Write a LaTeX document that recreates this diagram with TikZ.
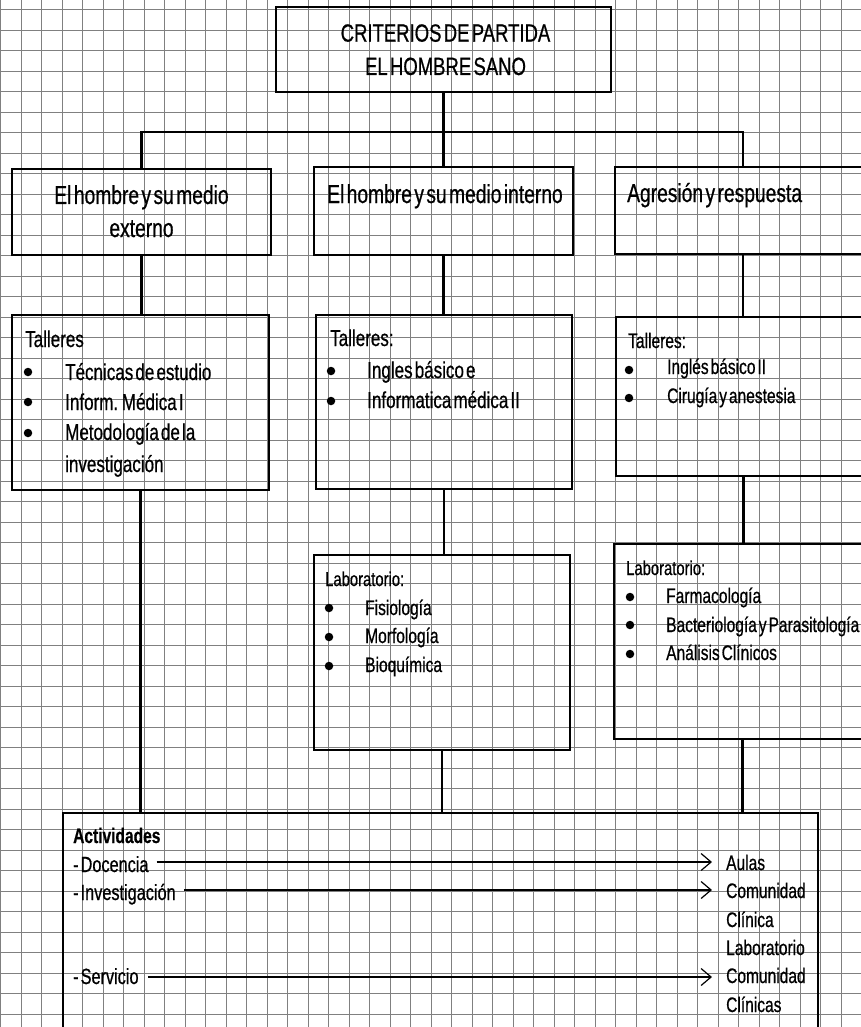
\documentclass[tikz,border=0pt]{standalone}
\usepackage{fontspec}
\setmainfont[FakeStretch=0.74,WordSpace=0.45,FakeBold=0.6]{Liberation Sans}
\usetikzlibrary{arrows.meta}
\begin{document}
\begin{tikzpicture}[x=1pt,y=-1pt,
  gridline/.style={black!50,line width=0.7pt},
  box/.style={draw,line width=2pt,rectangle,inner sep=0pt,anchor=north west},
  link/.style={line width=2.2pt},
  lbl/.style={inner sep=0pt,anchor=base west},
  clbl/.style={inner sep=0pt,anchor=base},
  dot/.style={circle,fill=black,inner sep=0pt,minimum size=8.5pt},
  arr/.style={line width=2pt,-{Straight Barb[length=10pt,width=17pt,line width=1.2pt]},shorten >=14pt},
  fA/.style={font=\fontsize{25}{30}\selectfont},
  fB/.style={font=\fontsize{26}{31}\selectfont},
  fC/.style={font=\fontsize{23}{28}\selectfont},
  fD/.style={font=\fontsize{21}{25}\selectfont},
  fE/.style={font=\fontsize{20}{24}\selectfont},
  fF/.style={font=\fontsize{22}{26}\selectfont},
  fG/.style={font=\bfseries\fontsize{21}{25}\selectfont}]
\useasboundingbox (0,0) rectangle (861,1027);
\clip (0,0) rectangle (861,1027);
\fill[white] (0,0) rectangle (861,1027);
% graph paper
\foreach \i in {0,...,42} \draw[gridline] (\i*20.5+0.5,0) -- (\i*20.5+0.5,1027);
\foreach \j in {0,...,50} \draw[gridline] (0,\j*20.5+9.7) -- (861,\j*20.5+9.7);

% boxes
\node[box,minimum width=335pt,minimum height=85pt] (top) at (275,6) {};
\node[box,minimum width=259pt,minimum height=86pt] (b1) at (11,168) {};
\node[box,minimum width=259pt,minimum height=88pt] (b2) at (313,166) {};
\node[box,minimum width=256pt,minimum height=87pt] (b3) at (614,166) {};
\node[box,minimum width=257pt,minimum height=175pt] (t1) at (11,314) {};
\node[box,minimum width=256pt,minimum height=174pt] (t2) at (315,314) {};
\node[box,minimum width=255pt,minimum height=159pt] (t3) at (615,316) {};
\node[box,minimum width=256pt,minimum height=195pt] (l2) at (313,554) {};
\node[box,minimum width=257pt,minimum height=195pt] (l3) at (613,543) {};
\node[box,minimum width=755pt,minimum height=230pt] (act) at (62,812) {};

% connectors
\draw[link] (top.south) -- ++(0,39) coordinate (j);
\draw[link] (b1.north) -- (b1.north |- j) -- (b3.north |- j) -- (b3.north);
\draw[link] (b2.north) -- (b2.north |- j);
\draw[link] (b1.south) -- (b1.south |- t1.north);
\draw[link] (b2.south) -- (b2.south |- t2.north);
\draw[link] (b3.south) -- (b3.south |- t3.north);
\draw[link] (t2.south) -- (t2.south |- l2.north);
\draw[link] (t3.south) -- (t3.south |- l3.north);
\draw[link] (t1.south) -- (t1.south |- act.north);
\draw[link] (l2.south) -- (l2.south |- act.north);
\draw[link] (l3.south) -- (l3.south |- act.north);

% header
\node[clbl,fA] (h1) at (445.5,41.7) {CRITERIOS DE PARTIDA};
\node[clbl,fA] (h2) at (445.5,75) {EL HOMBRE SANO};

% level 1
\node[clbl,fB] (b1a) at (141.5,204) {El hombre y su medio};
\node[clbl,fB] (b1b) at (141.5,237) {externo};
\node[lbl,fB] (b2a) at (327,203) {El hombre y su medio interno};
\node[lbl,fB] (b3a) at (627,202) {Agresión y respuesta};

% talleres 1
\node[lbl,fC] (t1h) at (25,347) {Talleres};
\node[dot] (t1d1) at (28,372) {};
\node[dot] (t1d2) at (28,402) {};
\node[dot] (t1d3) at (28,433) {};
\node[lbl,fC] (t1a) at (65,380) {Técnicas de estudio};
\node[lbl,fC] (t1b) at (65,410) {Inform. Médica I};
\node[lbl,fC] (t1c) at (65,440) {Metodología de la};
\node[lbl,fC] (t1e) at (65,472) {investigación};

% talleres 2
\node[lbl,fC] (t2h) at (330,346) {Talleres:};
\node[dot] (t2d1) at (331,371) {};
\node[dot] (t2d2) at (331,401) {};
\node[lbl,fC] (t2a) at (367,378) {Ingles básico e};
\node[lbl,fC] (t2b) at (367,408) {Informatica médica II};

% talleres 3
\node[lbl,fD] (t3h) at (628,348) {Talleres:};
\node[dot] (t3d1) at (629,370) {};
\node[dot] (t3d2) at (629,398) {};
\node[lbl,fD] (t3a) at (667,374) {Inglés básico II};
\node[lbl,fD] (t3b) at (667,403) {Cirugía y anestesia};

% laboratorio 2
\node[lbl,fE] (l2h) at (325,586) {Laboratorio:};
\node[dot] (l2d1) at (329,608) {};
\node[dot] (l2d2) at (329,637) {};
\node[dot] (l2d3) at (329,666) {};
\node[lbl,fD] (l2a) at (365,615) {Fisiología};
\node[lbl,fD] (l2b) at (365,643) {Morfología};
\node[lbl,fD] (l2c) at (365,672) {Bioquímica};

% laboratorio 3
\node[lbl,fE] (l3h) at (626,575) {Laboratorio:};
\node[dot] (l3d1) at (630,597) {};
\node[dot] (l3d2) at (630,625) {};
\node[dot] (l3d3) at (630,654) {};
\node[lbl,fD] (l3a) at (666,603) {Farmacología};
\node[lbl,fD] (l3b) at (666,632) {Bacteriología y Parasitología};
\node[lbl,fD] (l3c) at (666,660) {Análisis Clínicos};

% actividades
\node[lbl,fG] (acth) at (73,843) {Actividades};
\node[lbl,fF] (doc) at (73,872) {- Docencia};
\node[lbl,fF] (inv) at (73,900) {- Investigación};
\node[lbl,fF] (ser) at (73,984) {- Servicio};
\node[lbl,fD] (r1) at (726,870) {Aulas};
\node[lbl,fD] (r2) at (726,898) {Comunidad};
\node[lbl,fD] (r3) at (726,927) {Clínica};
\node[lbl,fD] (r4) at (726,955) {Laboratorio};
\node[lbl,fD] (r5) at (726,983) {Comunidad};
\node[lbl,fD] (r6) at (726,1012) {Clínicas};

\coordinate (s1) at ([shift={(8,-10)}]doc.base east);
\coordinate (s2) at ([shift={(8,-10)}]inv.base east);
\coordinate (s3) at ([shift={(9,-7)}]ser.base east);
\draw[arr] (s1) -- (s1 -| r1.west);
\draw[arr] (s2) -- (s2 -| r2.west);
\draw[arr] (s3) -- (s3 -| r5.west);
\end{tikzpicture}
\end{document}
